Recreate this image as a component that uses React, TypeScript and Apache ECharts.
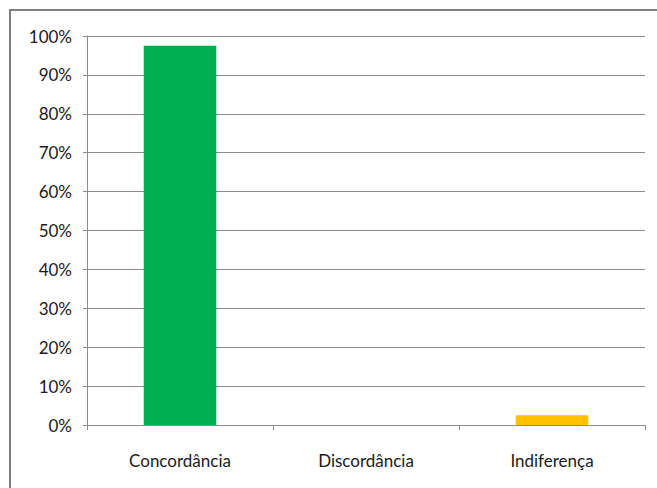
import React, { useEffect, useRef } from "react";
import * as echarts from "echarts";

const categories = ["Concordância", "Discordância", "Indiferença"];
const values = [97.5, 0, 2.5];
const barColors = ["#00B050", "#00B050", "#FFC000"];
const yTicks = { min: 0, max: 100, interval: 10 };

export default function App() {
  const ref = useRef<HTMLDivElement>(null);
  useEffect(() => {
    document.body.style.margin = "0";
    const chart = echarts.init(ref.current!, undefined, { renderer: "svg" });
    const font = "Lato, 'Open Sans', sans-serif";
    chart.setOption({
      animation: false,
      backgroundColor: "#ffffff",
      graphic: [
        {
          type: "rect",
          shape: { x: 10, y: 10, width: 700, height: 520 },
          style: { fill: "none", stroke: "#7f7f7f", lineWidth: 2 },
          silent: true,
        },
      ],
      grid: { left: 87, right: 12, top: 36, bottom: 63 },
      xAxis: {
        type: "category",
        data: categories,
        boundaryGap: true,
        axisLine: { show: true, lineStyle: { color: "#8c8c8c", width: 1 } },
        axisTick: { show: true, length: 5, lineStyle: { color: "#8c8c8c" } },
        axisLabel: { color: "#1a1a1a", fontSize: 17, fontFamily: font, margin: 27 },
      },
      yAxis: {
        type: "value",
        min: yTicks.min,
        max: yTicks.max,
        interval: yTicks.interval,
        axisLine: { show: true, lineStyle: { color: "#8c8c8c", width: 1 } },
        axisTick: { show: true, length: 4, lineStyle: { color: "#8c8c8c" } },
        axisLabel: {
          formatter: "{value}%",
          color: "#1a1a1a",
          fontSize: 17,
          fontFamily: font,
          margin: 15,
        },
        splitLine: { show: true, lineStyle: { color: "#8c8c8c", width: 1 } },
      },
      series: [
        {
          type: "bar",
          data: values.map((v, i) => ({ value: v, itemStyle: { color: barColors[i] } })),
          barWidth: "39%",
        },
      ],
    });
    return () => chart.dispose();
  }, []);
  return (
    <div
      ref={ref}
      style={{ position: "absolute", left: 0, top: 0, width: 657, height: 488 }}
    />
  );
}
